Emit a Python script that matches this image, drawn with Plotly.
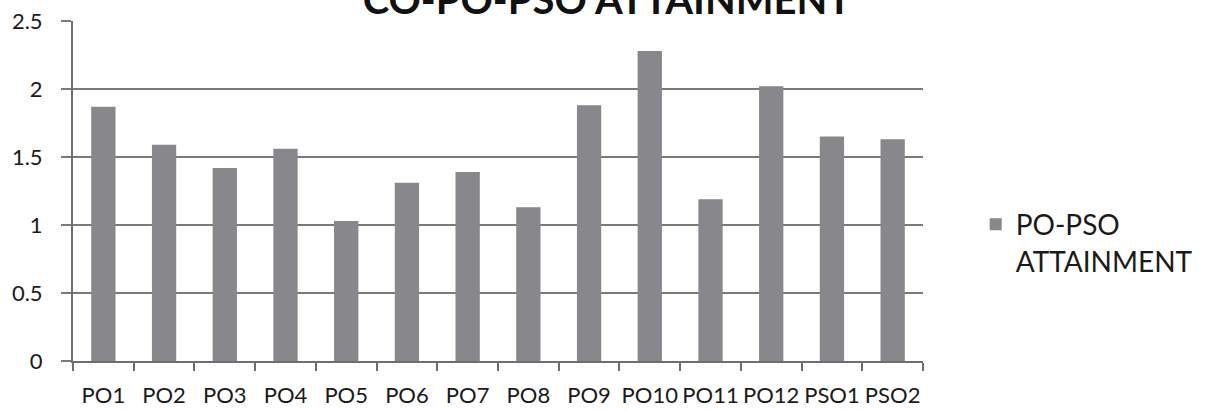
import plotly.graph_objects as go

categories = ["PO1", "PO2", "PO3", "PO4", "PO5", "PO6", "PO7", "PO8", "PO9", "PO10", "PO11", "PO12", "PSO1", "PSO2"]
values = [1.87, 1.59, 1.42, 1.56, 1.03, 1.31, 1.39, 1.13, 1.88, 2.28, 1.19, 2.02, 1.65, 1.63]
series_name = "PO-PSO<br>ATTAINMENT"
title_text = "CO-PO-PSO ATTAINMENT"
y_ticks = [0, 0.5, 1, 1.5, 2, 2.5]
y_tick_labels = ["0", "0.5", "1", "1.5", "2", "2.5"]

FONT = "Lato, 'Open Sans', sans-serif"

fig = go.Figure()
fig.add_trace(go.Bar(
    x=categories, y=values, name=series_name,
    marker=dict(color="#87878c", line=dict(width=0)),
    showlegend=True,
))

fig.update_layout(
    width=1224, height=411,
    margin=dict(l=73, r=301, t=21, b=50, pad=0),
    paper_bgcolor="white", plot_bgcolor="white",
    bargap=0.6,
    font=dict(family=FONT, color="#1a1a1a", size=22),
    title=dict(text="<b>" + title_text + "</b>", x=(607) / 1224, xanchor="center",
               y=1 - 0 / 411, yanchor="middle", yref="container",
               font=dict(family=FONT, size=40, color="#111111")),
    legend=dict(x=1.062, xanchor="left", y=0.475, yanchor="top",
                font=dict(family=FONT, size=28, color="#1a1a1a"),
                bgcolor="rgba(0,0,0,0)", valign="top"),
    xaxis=dict(type="category", showgrid=False, showline=True, linecolor="#6e6e6e",
               linewidth=2, ticks="outside", tickson="boundaries", ticklen=8,
               tickcolor="#6e6e6e", tickwidth=2, tickangle=0, automargin=False,
               ticklabelstandoff=14, tickfont=dict(size=22)),
    yaxis=dict(range=[0, 2.5], tickvals=y_ticks, ticktext=y_tick_labels,
               showgrid=True, gridcolor="#7a7a7a", gridwidth=2,
               showline=True, linecolor="#6e6e6e", linewidth=2,
               ticks="outside", ticklen=10, tickcolor="#7a7a7a", tickwidth=2,
               zeroline=False, automargin=False, ticklabelstandoff=14,
               tickfont=dict(size=22)),
)

fig.write_html("out.html")
